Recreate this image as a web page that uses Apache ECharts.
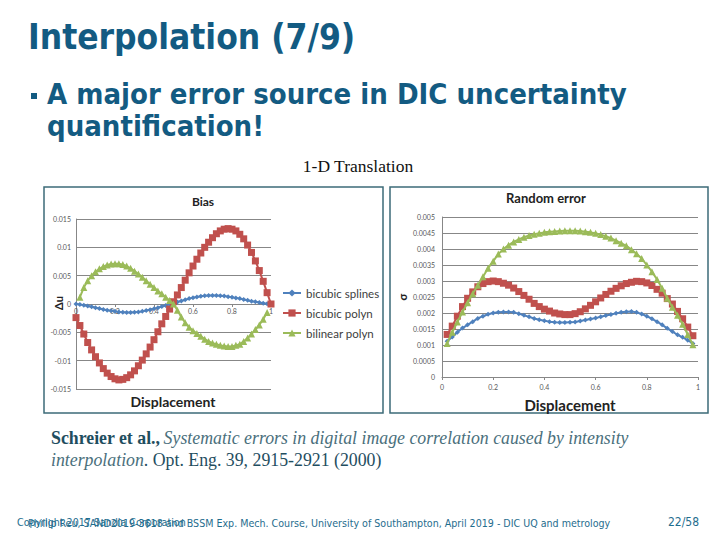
<!DOCTYPE html>
<html>
<head>
<meta charset="UTF-8">
<title>Interpolation (7/9)</title>
<script src="https://cdn.jsdelivr.net/npm/echarts@6/dist/echarts.min.js"></script>
<style>
  html, body { margin: 0; padding: 0; background: #fff; }
  #main { width: 720px; height: 540px; }
</style>
</head>
<body>
<div id="main"></div>
<script>
// series names (legend)
var seriesNames = ['bicubic splines', 'bicubic polyn', 'bilinear polyn'];

// Bias chart, displacement 0..1
var biasX = [0, 0.02, 0.04, 0.06, 0.08, 0.1, 0.12, 0.14, 0.16, 0.18, 0.2, 0.22, 0.24, 0.26, 0.28, 0.3, 0.32, 0.34, 0.36, 0.38, 0.4,
  0.42, 0.44, 0.46, 0.48, 0.5, 0.52, 0.54, 0.56, 0.58, 0.6, 0.62, 0.64, 0.66, 0.68, 0.7, 0.72, 0.74, 0.76, 0.78, 0.8,
  0.82, 0.84, 0.86, 0.88, 0.9, 0.92, 0.94, 0.96, 0.98, 1];
var biasSplines = [0, -0.0001, -0.0002, -0.00035, -0.0005, -0.00065, -0.0008, -0.00095, -0.0011, -0.0012, -0.0013,
  -0.0014, -0.00145, -0.0015, -0.0015, -0.00145, -0.0014, -0.0013, -0.00115, -0.001, -0.00085,
  -0.00065, -0.00045, -0.00025, -0.00005, 0.00015, 0.00035, 0.00055, 0.00075, 0.00095, 0.0011,
  0.00125, 0.00135, 0.00145, 0.0015, 0.0015, 0.0015, 0.00145, 0.0014, 0.0013, 0.0012,
  0.00105, 0.00095, 0.0008, 0.00065, 0.0005, 0.0004, 0.00025, 0.00015, 0.00005, 0];
var biasPolyn = [-0.0024, -0.0038, -0.0053, -0.0068, -0.0081, -0.0093, -0.0104, -0.0114, -0.0122, -0.0128, -0.0132,
  -0.0134, -0.0133, -0.013, -0.0125, -0.0118, -0.0109, -0.0099, -0.0088, -0.0076, -0.0063,
  -0.0049, -0.0035, -0.0022, -0.0009, 0.0004, 0.0016, 0.0029, 0.0042, 0.0055, 0.0067,
  0.0079, 0.009, 0.01, 0.0109, 0.0117, 0.0124, 0.0129, 0.0132, 0.0133, 0.0132,
  0.0129, 0.0123, 0.0115, 0.0104, 0.0091, 0.0076, 0.0059, 0.004, 0.002, 0];
var biasBilinear = [null, 0.0012, 0.0029, 0.0041, 0.005, 0.0057, 0.0062, 0.0066, 0.0069, 0.00705, 0.0071,
  0.0071, 0.00695, 0.0067, 0.0063, 0.0058, 0.0053, 0.0047, 0.0041, 0.0035, 0.0029,
  0.0023, 0.0018, 0.0012, 0.0006, 0, -0.0011, -0.0023, -0.0033, -0.0041, -0.0047,
  -0.0052, -0.0057, -0.0062, -0.0066, -0.0069, -0.0071, -0.0073, -0.0074, -0.0075, -0.0075,
  -0.0073, -0.0071, -0.0066, -0.006, -0.0053, -0.0045, -0.0037, -0.0027, -0.0015, null];

// Random error chart
var randX = [0.02, 0.04, 0.06, 0.08, 0.1, 0.12, 0.14, 0.16, 0.18, 0.2, 0.22, 0.24, 0.26, 0.28, 0.3, 0.32, 0.34, 0.36, 0.38, 0.4,
  0.42, 0.44, 0.46, 0.48, 0.5, 0.52, 0.54, 0.56, 0.58, 0.6, 0.62, 0.64, 0.66, 0.68, 0.7, 0.72, 0.74, 0.76, 0.78, 0.8,
  0.82, 0.84, 0.86, 0.88, 0.9, 0.92, 0.94, 0.96, 0.98];
var randSplines = [0.00112, 0.00125, 0.0014, 0.00153, 0.00163, 0.00173, 0.00183, 0.0019, 0.00196, 0.002,
  0.00202, 0.00203, 0.00203, 0.00202, 0.00198, 0.00193, 0.00188, 0.00183, 0.00179, 0.00176,
  0.00173, 0.00171, 0.0017, 0.0017, 0.00171, 0.00172, 0.00175, 0.00178, 0.00181, 0.00184,
  0.00188, 0.00192, 0.00195, 0.00199, 0.00202, 0.00204, 0.00205, 0.00202, 0.00197, 0.0019,
  0.00182, 0.00173, 0.00163, 0.00152, 0.00142, 0.00132, 0.00124, 0.00115, 0.00105];
var randPolyn = [0.00133, 0.00159, 0.0019, 0.0022, 0.00246, 0.00266, 0.00282, 0.00292, 0.00298, 0.003,
  0.00298, 0.00293, 0.00287, 0.00278, 0.00267, 0.00255, 0.00243, 0.0023, 0.0022, 0.00212,
  0.00206, 0.002, 0.00197, 0.00195, 0.00195, 0.00198, 0.00204, 0.00213, 0.00224, 0.00235,
  0.00247, 0.00258, 0.00268, 0.00277, 0.00285, 0.00292, 0.00296, 0.00299, 0.00298, 0.00294,
  0.00286, 0.00274, 0.00262, 0.00245, 0.00228, 0.00205, 0.00182, 0.00156, 0.00129];
var randBilinear = [0.00105, 0.0014, 0.00172, 0.00203, 0.00232, 0.0026, 0.00287, 0.00313, 0.0034, 0.00362,
  0.00384, 0.004, 0.00412, 0.00422, 0.0043, 0.00437, 0.00442, 0.00446, 0.00449, 0.00452,
  0.00454, 0.00455, 0.00456, 0.00457, 0.00457, 0.00457, 0.00456, 0.00454, 0.00452, 0.00449,
  0.00445, 0.0044, 0.00434, 0.00426, 0.00418, 0.0041, 0.00398, 0.00385, 0.0037, 0.0035,
  0.00329, 0.00305, 0.00277, 0.00246, 0.00218, 0.00193, 0.00165, 0.00133, 0.00101];

var colors = ['#4f81bd', '#c0504d', '#9bbb59'];
var symbols = ['diamond', 'rect', 'triangle'];
var symbolSizes = [5, 7, 7];

function pairs(xs, ys) {
  return xs.map(function (x, i) { return [x, ys[i]]; });
}

function lineSeries(idx, grid, xs, ys) {
  return {
    name: seriesNames[idx],
    type: 'line',
    xAxisIndex: grid,
    yAxisIndex: grid,
    data: pairs(xs, ys),
    symbol: symbols[idx],
    symbolSize: symbolSizes[idx],
    showAllSymbol: true,
    color: colors[idx],
    lineStyle: { width: 2, color: colors[idx] },
    itemStyle: { color: colors[idx] },
    animation: false,
    z: 2 + idx
  };
}

var gridLine = '#878787';
var tickFont = { color: '#595959', fontSize: 7, fontFamily: 'Lato' };
var teal = '#135b82';
var foot = '#1f6d8e';

var chart = echarts.init(document.getElementById('main'), null, { renderer: 'svg' });

chart.setOption({
  animation: false,
  backgroundColor: '#fff',
  grid: [
    { left: 76, top: 219, width: 195, height: 170 },
    { left: 442, top: 217, width: 256, height: 160 }
  ],
  legend: {
    data: seriesNames,
    orient: 'vertical',
    left: 282,
    top: 287,
    padding: 0,
    itemGap: 8,
    itemWidth: 18,
    itemHeight: 9,
    textStyle: { color: '#404040', fontSize: 11.5, fontFamily: 'Lato' }
  },
  xAxis: [
    {
      // axis drawn on the zero line of the bias chart
      gridIndex: 0, type: 'value', min: 0, max: 1, interval: 0.2,
      position: 'bottom', offset: -85,
      axisLine: { onZero: false, lineStyle: { color: gridLine } },
      axisTick: { show: true, length: 3, lineStyle: { color: gridLine } },
      axisLabel: Object.assign({ margin: 3 }, tickFont),
      splitLine: { show: false }
    },
    {
      gridIndex: 1, type: 'value', min: 0, max: 1, interval: 0.2,
      axisLine: { lineStyle: { color: gridLine } },
      axisTick: { show: true, length: 3, lineStyle: { color: gridLine } },
      axisLabel: Object.assign({ margin: 6 }, tickFont),
      splitLine: { show: false }
    }
  ],
  yAxis: [
    {
      gridIndex: 0, type: 'value', min: -0.015, max: 0.015, interval: 0.005,
      axisLine: { show: true, lineStyle: { color: gridLine } },
      axisTick: { show: false },
      axisLabel: Object.assign({ margin: 5 }, tickFont),
      splitLine: { show: true, lineStyle: { color: gridLine, width: 1 } }
    },
    {
      gridIndex: 1, type: 'value', min: 0, max: 0.005, interval: 0.0005,
      axisLine: { show: true, lineStyle: { color: gridLine } },
      axisTick: { show: false },
      axisLabel: Object.assign({ margin: 7 }, tickFont),
      splitLine: { show: true, lineStyle: { color: gridLine, width: 1 } }
    }
  ],
  series: [
    lineSeries(0, 0, biasX, biasSplines),
    lineSeries(1, 0, biasX, biasPolyn),
    lineSeries(2, 0, biasX, biasBilinear),
    lineSeries(0, 1, randX, randSplines),
    lineSeries(1, 1, randX, randPolyn),
    lineSeries(2, 1, randX, randBilinear)
  ],
  graphic: [
    // chart frames
    { type: 'rect', shape: { x: 44, y: 187, width: 339, height: 226 }, style: { fill: 'none', stroke: '#3d6b78', lineWidth: 1.5 }, z: -1 },
    { type: 'rect', shape: { x: 390, y: 187, width: 318, height: 226 }, style: { fill: 'none', stroke: '#3d6b78', lineWidth: 1.5 }, z: -1 },
    // slide title and bullet
    { type: 'text', x: 28, y: 19, style: { text: 'Interpolation (7/9)', fill: teal, font: 'bold 35px "DejaVu Sans Condensed"' } },
    { type: 'rect', shape: { x: 31, y: 93, width: 6, height: 6 }, style: { fill: teal } },
    { type: 'text', x: 47, y: 79, style: { text: 'A major error source in DIC uncertainty', fill: teal, font: 'bold 29px "DejaVu Sans Condensed"' } },
    { type: 'text', x: 47, y: 111, style: { text: 'quantification!', fill: teal, font: 'bold 29px "DejaVu Sans Condensed"' } },
    { type: 'text', x: 358, y: 166, style: { text: '1-D Translation', fill: '#111', font: '17.5px "Liberation Serif"', textAlign: 'center', textVerticalAlign: 'middle' } },
    // chart titles and axis names
    { type: 'text', x: 203, y: 201, style: { text: 'Bias', fill: '#222', font: 'bold 12px Lato', textAlign: 'center', textVerticalAlign: 'middle' } },
    { type: 'text', x: 546, y: 198, style: { text: 'Random error', fill: '#222', font: 'bold 13px Lato', textAlign: 'center', textVerticalAlign: 'middle' } },
    { type: 'text', x: 173, y: 401, style: { text: 'Displacement', fill: '#222', font: 'bold 14px Lato', textAlign: 'center', textVerticalAlign: 'middle' } },
    { type: 'text', x: 570, y: 405, style: { text: 'Displacement', fill: '#222', font: 'bold 15px Lato', textAlign: 'center', textVerticalAlign: 'middle' } },
    { type: 'text', x: 58, y: 303, rotation: Math.PI / 2, style: { text: 'Δu', fill: '#222', font: 'bold 11px Lato', textAlign: 'center', textVerticalAlign: 'middle' } },
    { type: 'text', x: 402, y: 297, rotation: Math.PI / 2, style: { text: 'σ', fill: '#222', font: 'bold 11px Lato', textAlign: 'center', textVerticalAlign: 'middle' } },
    // reference
    {
      type: 'text', x: 51, y: 427,
      style: {
        text: '{b|Schreier et al.,} {i|Systematic errors in digital image correlation caused by intensity}\n{i|interpolation}{n|. Opt. Eng. 39, 2915-2921 (2000)}',
        lineHeight: 22,
        rich: {
          b: { font: 'bold 17.8px "Liberation Serif"', fill: '#1f4e5f', lineHeight: 22 },
          i: { font: 'italic 17.8px "Liberation Serif"', fill: '#4a6f7c', lineHeight: 22 },
          n: { font: '17.8px "Liberation Serif"', fill: '#1f4e5f', lineHeight: 22 }
        }
      }
    },
    // footer (two texts overlap on the original slide)
    { type: 'text', x: 17, y: 522, style: { text: 'Copyright 2017 Sandia Corporation', fill: foot, font: '10.6px "DejaVu Sans Condensed"', textVerticalAlign: 'middle' } },
    { type: 'text', x: 28, y: 523, style: { text: 'Phillip Reu, SAND2019-3618 and BSSM Exp. Mech. Course, University of Southampton, April 2019 - DIC UQ and metrology', fill: foot, font: '10.6px "DejaVu Sans Condensed"', textVerticalAlign: 'middle' } },
    { type: 'text', x: 699, y: 522, style: { text: '22/58', fill: foot, font: '12px "DejaVu Sans Condensed"', textAlign: 'right', textVerticalAlign: 'middle' } }
  ]
});
</script>
</body>
</html>
